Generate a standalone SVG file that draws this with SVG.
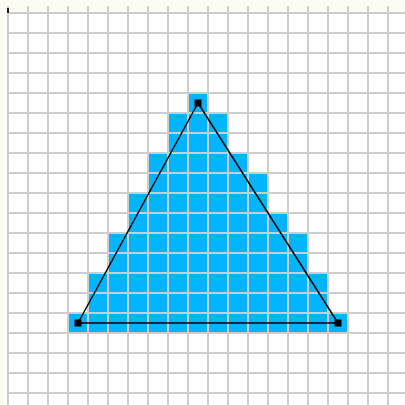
<svg xmlns="http://www.w3.org/2000/svg" width="405" height="405" viewBox="0 0 405 405">
<defs>
<style>
.cell{fill:#00b4ff}
.grid{stroke:#cdcdcd;stroke-width:2;fill:none}
.edge{stroke:#000;stroke-width:1.5;fill:none}
.vtx{fill:#000}
</style>
</defs>
<rect x="0" y="0" width="405" height="405" fill="#fbfcf2"/>
<rect x="8" y="13" width="397" height="392" fill="#ffffff"/>
<g id="raster">
<rect class="cell" x="188" y="93" width="20" height="20"/>
<rect class="cell" x="168" y="113" width="60" height="40"/>
<rect class="cell" x="148" y="153" width="100" height="20"/>
<rect class="cell" x="148" y="173" width="120" height="20"/>
<rect class="cell" x="128" y="193" width="140" height="20"/>
<rect class="cell" x="128" y="213" width="160" height="20"/>
<rect class="cell" x="108" y="233" width="200" height="40"/>
<rect class="cell" x="88" y="273" width="240" height="40"/>
<rect class="cell" x="68" y="313" width="280" height="20"/>
</g>
<g id="grid">
<path class="grid" d="M8 6V405M28 6V405M48 6V405M68 6V405M88 6V405M108 6V405M128 6V405M148 6V405M168 6V405M188 6V405M208 6V405M228 6V405M248 6V405M268 6V405M288 6V405M308 6V405M328 6V405M348 6V405M368 6V405M388 6V405"/>
<path class="grid" d="M7 13H405M7 33H405M7 53H405M7 73H405M7 93H405M7 113H405M7 133H405M7 153H405M7 173H405M7 193H405M7 213H405M7 233H405M7 253H405M7 273H405M7 293H405M7 313H405M7 333H405M7 353H405M7 373H405M7 393H405"/>
<rect x="7" y="8" width="2" height="5" fill="#2a1030"/>
</g>
<g id="connectors">
<path class="edge" d="M198 103L78 323"/>
<path class="edge" d="M198 103L338 323"/>
<path class="edge" d="M78 323H338" stroke-width="2"/>
</g>
<g id="v-top"><rect class="vtx" x="194.5" y="99.5" width="7" height="7"/></g>
<g id="v-left"><rect class="vtx" x="74.5" y="319.5" width="7" height="7"/></g>
<g id="v-right"><rect class="vtx" x="334.5" y="319.5" width="7" height="7"/></g>
</svg>
